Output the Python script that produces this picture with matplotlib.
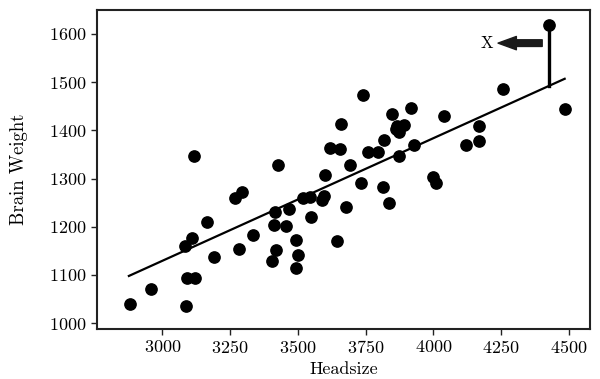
import matplotlib
matplotlib.use("Agg")
import matplotlib.pyplot as plt
import numpy as np

plt.rcParams['font.family'] = ['cmr10', 'DejaVu Serif']
plt.rcParams['axes.formatter.use_mathtext'] = True

headsize = [2880, 2958, 3087, 3090, 3120, 3083, 3109, 3116, 3164, 3190,
            3268, 3293, 3282, 3334, 3426, 3415, 3404, 3419, 3411, 3456,
            3467, 3493, 3500, 3493, 3544, 3518, 3548, 3589, 3596, 3600,
            3618, 3655, 3659, 3644, 3677, 3692, 3732, 3740, 3758, 3795,
            3817, 3813, 3835, 3847, 3866, 3890, 3872, 3862, 3873, 3917,
            3928, 3998, 4009, 4039, 4120, 4168, 4168, 4256, 4485, 4426]
brain_weight = [1040, 1071, 1036, 1094, 1094, 1160, 1177, 1347, 1210, 1137,
                1260, 1272, 1154, 1183, 1328, 1231, 1129, 1152, 1204, 1202,
                1237, 1173, 1142, 1115, 1262, 1260, 1220, 1256, 1264, 1307,
                1363, 1361, 1413, 1171, 1241, 1328, 1291, 1474, 1355, 1355,
                1380, 1283, 1249, 1434, 1409, 1411, 1396, 1402, 1347, 1447,
                1370, 1303, 1291, 1430, 1370, 1378, 1409, 1486, 1444, 1619]

line_x = [2876, 4485]
line_y = [1098, 1507]

outlier_x = 4426
outlier_y = 1619
arrow_from = (4402, 1581)
arrow_to = (4239, 1581)
label_pos = (4197, 1581)

xticks = [3000, 3250, 3500, 3750, 4000, 4250, 4500]
yticks = [1000, 1100, 1200, 1300, 1400, 1500, 1600]

fig = plt.figure(figsize=(6.0, 3.79), dpi=100)
ax = fig.add_axes([0.162, 0.132, 0.822, 0.842])

ax.scatter(headsize, brain_weight, s=66, color='black', zorder=3)
ax.plot(line_x, line_y, color='black', lw=1.6, zorder=2)

slope = (line_y[1] - line_y[0]) / (line_x[1] - line_x[0])
y_on_line = line_y[0] + slope * (outlier_x - line_x[0])
ax.plot([outlier_x, outlier_x], [y_on_line, outlier_y], color='black', lw=2.4, zorder=2)

ax.annotate('', xy=arrow_to, xytext=arrow_from,
            arrowprops=dict(arrowstyle='simple,head_length=1.1,head_width=0.8,tail_width=0.4',
                            color='#1a1a1a', mutation_scale=12, shrinkA=0, shrinkB=0))
ax.text(label_pos[0], label_pos[1], 'X', ha='center', va='center', fontsize=12)

ax.set_xlim(2759, 4580)
ax.set_ylim(988, 1650)
ax.set_xticks(xticks)
ax.set_yticks(yticks)
ax.tick_params(labelsize=13, length=4, width=1, direction='out', color='#222222')
for s in ax.spines.values():
    s.set_linewidth(1.5)
    s.set_color('#222222')

ax.set_xlabel('Headsize', fontsize=13, labelpad=4)
ax.set_ylabel('Brain Weight', fontsize=13.5, labelpad=15)

fig.savefig('out.png', dpi=100)
